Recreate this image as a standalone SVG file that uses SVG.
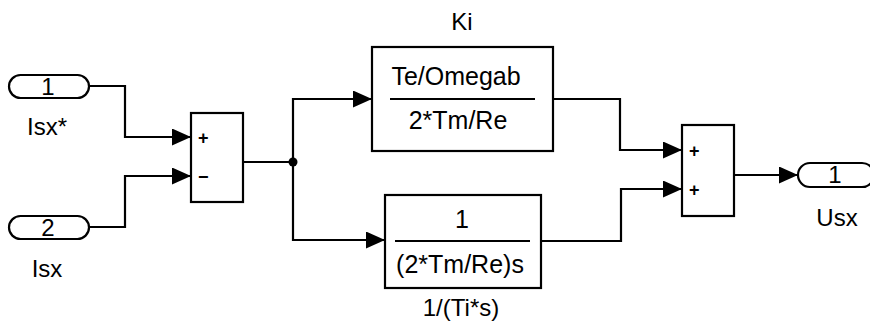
<svg xmlns="http://www.w3.org/2000/svg" width="870" height="324" viewBox="0 0 870 324">
  <style>
    .blk { fill: #fff; stroke: #000; stroke-width: 2.2; }
    .port { fill: #fff; stroke: #000; stroke-width: 2.2; }
    .wire { fill: none; stroke: #000; stroke-width: 2.2; }
    .bar { stroke: #000; stroke-width: 2.2; }
    text { font-family: "Liberation Sans", Arial, sans-serif; fill: #000; text-anchor: middle; }
    .lbl { font-size: 24px; }
    .frac { font-size: 25px; }
    .sign { font-size: 18px; font-weight: bold; text-anchor: start; }
  </style>
  <defs>
    <marker id="arrow" viewBox="0 0 19 17" refX="19" refY="8.5" markerWidth="19" markerHeight="17" markerUnits="userSpaceOnUse" orient="auto">
      <path d="M0,0 L19,8.5 L0,17 Z" fill="#000"/>
    </marker>
  </defs>

  <!-- signal lines -->
  <g id="connectors">
    <polyline class="wire" points="89,86 125,86 125,137 191,137" marker-end="url(#arrow)"/>
    <polyline class="wire" points="89,227 125,227 125,176 191,176" marker-end="url(#arrow)"/>
    <polyline class="wire" points="243,162 293,162"/>
    <polyline class="wire" points="293,162 293,99 372,99" marker-end="url(#arrow)"/>
    <polyline class="wire" points="293,162 293,240 385,240" marker-end="url(#arrow)"/>
    <circle cx="293" cy="162" r="4.5" fill="#000"/>
    <polyline class="wire" points="553,99 620,99 620,150 682,150" marker-end="url(#arrow)"/>
    <polyline class="wire" points="541,241 621,241 621,189 682,189" marker-end="url(#arrow)"/>
    <polyline class="wire" points="734,175 798,175" marker-end="url(#arrow)"/>
  </g>

  <!-- inport Isx* -->
  <g id="in1">
    <rect class="port" x="9" y="75" width="80" height="23" rx="11.5"/>
    <text class="lbl" x="48" y="95">1</text>
    <text class="lbl" x="47" y="135">Isx*</text>
  </g>

  <!-- inport Isx -->
  <g id="in2">
    <rect class="port" x="9" y="216" width="80" height="23" rx="11.5"/>
    <text class="lbl" x="48" y="236">2</text>
    <text class="lbl" x="47" y="277">Isx</text>
  </g>

  <!-- error sum -->
  <g id="sum1">
    <rect class="blk" x="191" y="113" width="52" height="89"/>
    <text class="sign" x="198" y="144">+</text>
    <text class="sign" x="198" y="183">−</text>
  </g>

  <!-- proportional gain -->
  <g id="gain_ki">
    <text class="lbl" x="462" y="30">Ki</text>
    <rect class="blk" x="372" y="47" width="181" height="104"/>
    <text class="frac" x="456" y="85">Te/Omegab</text>
    <line class="bar" x1="390" y1="99" x2="535" y2="99"/>
    <text class="frac" x="458" y="129">2*Tm/Re</text>
  </g>

  <!-- integrator -->
  <g id="integrator">
    <rect class="blk" x="385" y="195" width="156" height="93"/>
    <text class="frac" x="462" y="228">1</text>
    <line class="bar" x1="395" y1="241" x2="530" y2="241"/>
    <text class="frac" x="460" y="273">(2*Tm/Re)s</text>
    <text class="lbl" x="461" y="316">1/(Ti*s)</text>
  </g>

  <!-- output sum -->
  <g id="sum2">
    <rect class="blk" x="682" y="125" width="52" height="91"/>
    <text class="sign" x="689" y="157">+</text>
    <text class="sign" x="689" y="196">+</text>
  </g>

  <!-- outport Usx -->
  <g id="out1">
    <rect class="port" x="798" y="163" width="76" height="24" rx="12"/>
    <text class="lbl" x="835" y="183">1</text>
    <text class="lbl" x="837" y="226">Usx</text>
  </g>
</svg>
